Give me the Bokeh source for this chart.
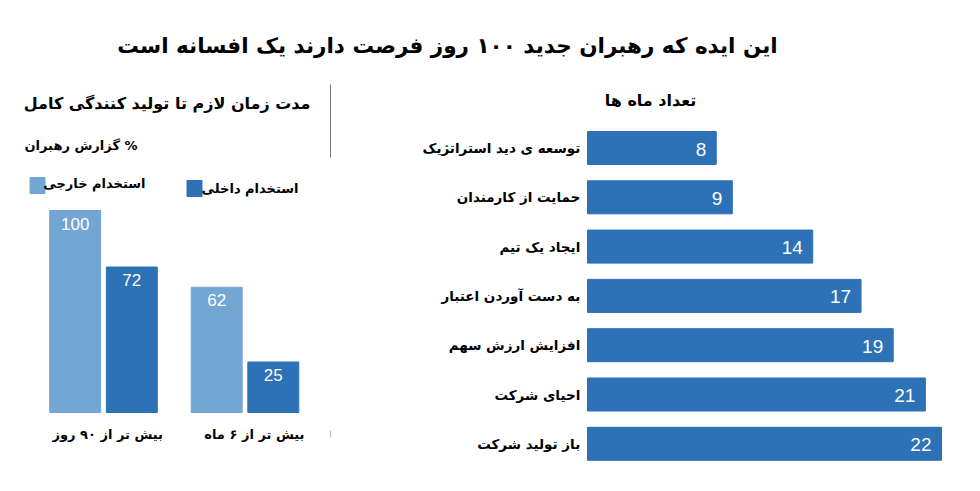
from bokeh.plotting import figure
from bokeh.models import ColumnDataSource, Range1d
from bokeh.core.properties import value
from bokeh.embed import file_html
from bokeh.resources import INLINE

# data
title_text = "این ایده که رهبران جدید ۱۰۰ روز فرصت دارند یک افسانه است"

# left chart: % of leaders reporting
left_title = "مدت زمان لازم تا تولید کنندگی کامل"
left_unit = "گزارش رهبران %"
periods = ["بیش تر از ۹۰ روز", "بیش تر از ۶ ماه"]
series_names = ["استخدام خارجی", "استخدام داخلی"]
external_hire = [100, 62]
internal_hire = [72, 25]

# right chart: number of months
right_title = "تعداد ماه ها"
tasks = ["توسعه ی دید استراتژیک", "حمایت از کارمندان", "ایجاد یک تیم",
         "به دست آوردن اعتبار", "افزایش ارزش سهم", "احیای شرکت", "باز تولید شرکت"]
months = [8, 9, 14, 17, 19, 21, 22]

LIGHT = "#74a6d4"
DARK = "#2d71b7"
FONT = "DejaVu Sans"
NUMFONT = "Liberation Sans"

W, H = 964, 475

p = figure(width=W, height=H, output_backend="svg", toolbar_location=None,
           x_range=Range1d(0, W), y_range=Range1d(H, 0),
           x_axis_location=None, y_axis_location=None, min_border=0,
           background_fill_color="white", border_fill_color="white")
p.outline_line_color = None
p.xgrid.visible = False
p.ygrid.visible = False

# ranges for left chart: group 0 centred at px 103, 141.5 px per group; 0% at px 412, 2.02 px per %
gx = 141.5
p.extra_x_ranges["grp"] = Range1d(-103 / gx, (W - 103) / gx)
py = 2.02
p.extra_y_ranges["pct"] = Range1d(-(H - 412) / py, 412 / py)

# ranges for right chart: 0 months at px 587, 16.09 px per month; row 0 centred at px 147.5, 49.3 px per row
mx = 16.09
p.extra_x_ranges["mon"] = Range1d(-587 / mx, (W - 587) / mx)
ry = 49.3
p.extra_y_ranges["row"] = Range1d((H - 147.5) / ry, -147.5 / ry)

# left chart bars
grp = list(range(len(periods)))
src_l = ColumnDataSource(dict(
    x_ext=[g - 0.2 for g in grp], x_int=[g + 0.2 for g in grp],
    ext=external_hire, int_=internal_hire,
    ext_lbl=[str(v) for v in external_hire], int_lbl=[str(v) for v in internal_hire],
    g=grp, lbl=periods, lx=[g + 0.42 for g in grp], ly=[-11] * len(grp)))
p.vbar(x="x_ext", top="ext", bottom=0, width=0.36, source=src_l, color=LIGHT,
       x_range_name="grp", y_range_name="pct")
p.vbar(x="x_int", top="int_", bottom=0, width=0.36, source=src_l, color=DARK,
       x_range_name="grp", y_range_name="pct")
p.text(x="x_ext", y="ext", text="ext_lbl", source=src_l, x_range_name="grp", y_range_name="pct",
       text_color="white", text_font=value(NUMFONT), text_font_size="17px",
       text_align="center", text_baseline="top", y_offset=7)
p.text(x="x_int", y="int_", text="int_lbl", source=src_l, x_range_name="grp", y_range_name="pct",
       text_color="white", text_font=value(NUMFONT), text_font_size="17px",
       text_align="center", text_baseline="top", y_offset=7)
p.text(x="lx", y="ly", text="lbl", source=src_l, x_range_name="grp", y_range_name="pct",
       text_color="black", text_font=value(FONT), text_font_style="bold", text_font_size="13px",
       text_align="right", text_baseline="middle")

# right chart bars
rows = list(range(len(tasks)))
src_r = ColumnDataSource(dict(row=rows, months=months, task=tasks,
                              mlbl=[str(v) for v in months], lx=[-0.45] * len(rows)))
p.hbar(y="row", right="months", left=0, height=0.67, source=src_r, color=DARK,
       x_range_name="mon", y_range_name="row")
p.text(x="months", y="row", text="mlbl", source=src_r, x_range_name="mon", y_range_name="row",
       text_color="white", text_font=value(NUMFONT), text_font_size="19px",
       text_align="right", text_baseline="middle", x_offset=-10, y_offset=1)
p.text(x="lx", y="row", text="task", source=src_r, x_range_name="mon", y_range_name="row",
       text_color="black", text_font=value(FONT), text_font_style="bold", text_font_size="13.5px",
       text_align="right", text_baseline="middle")

# titles and legend
p.text(x=[447], y=[45], text=[title_text], text_color="black", text_font=value(FONT),
       text_font_style="bold", text_font_size="21.5px", text_align="center", text_baseline="middle")
p.text(x=[310], y=[103], text=[left_title], text_color="black", text_font=value(FONT),
       text_font_style="bold", text_font_size="16px", text_align="right", text_baseline="middle")
p.text(x=[137], y=[145], text=[left_unit], text_color="black", text_font=value(FONT),
       text_font_style="bold", text_font_size="13px", text_align="right", text_baseline="middle")
p.text(x=[650], y=[100], text=[right_title], text_color="black", text_font=value(FONT),
       text_font_style="bold", text_font_size="16px", text_align="center", text_baseline="middle")

p.rect(x=[37, 194], y=[185, 188], width=15, height=16, color=[LIGHT, DARK])
p.text(x=[145, 298], y=[183, 188], text=series_names, text_color="black", text_font=value(FONT),
       text_font_style="bold", text_font_size="13px", text_align="right", text_baseline="middle")

# divider between the two panels
p.segment(x0=[330, 330], y0=[84, 430], x1=[330, 330], y1=[157, 437],
          line_color=["#777777", "#bbbbbb"], line_width=1)

open("out.html", "w").write(file_html(p, INLINE))
